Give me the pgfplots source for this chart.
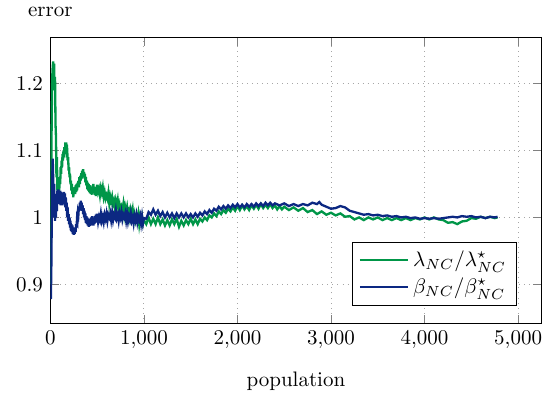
\documentclass[border=0pt]{standalone}
\usepackage{pgfplots}
\pgfplotsset{compat=1.18}
\definecolor{lgreen}{RGB}{0,150,72}
\definecolor{lblue}{RGB}{12,40,130}
\begin{document}
\begin{tikzpicture}
\begin{axis}[
  scale only axis,
  width=234pt, height=136.5pt,
  xmin=0, xmax=5250,
  ymin=0.8414, ymax=1.2696,
  xtick={0,1000,2000,3000,4000,5000},
  ytick={0.9,1,1.1,1.2},
  grid=major,
  major grid style={gray!70, dotted},
  tick style={gray},
  xlabel={population},
  ylabel={error},
  every axis y label/.style={at={(axis description cs:0,1)},anchor=south,yshift=6.2pt},
  xlabel style={yshift=-4.1pt},
  legend style={at={(0.95,0.063)}, anchor=south east, draw=black, font=\normalsize},
  legend cell align=left,
  legend image code/.code={\draw[#1] (0cm,0cm) -- (0.8cm,0cm);},
]
\addplot[lgreen, line width=1.1pt] coordinates {
(0,0.90)(5,0.96)(10,1.08)(15,1.16)(20,1.21)(25,1.225)(30,1.233)(35,1.215)(40,1.23)(45,1.19)(50,1.21)(55,1.14)(60,1.12)(65,1.06)(70,1.09)(75,1.04)(80,1.06)(85,1.03)(90,1.055)(95,1.04)(100,1.06)(105,1.05)(110,1.075)(115,1.065)(120,1.085)(125,1.075)(130,1.095)(135,1.085)(140,1.10)(145,1.09)(150,1.105)(155,1.095)(160,1.112)(165,1.10)(170,1.112)(175,1.098)(180,1.10)(185,1.085)(190,1.09)(195,1.07)(200,1.075)(205,1.06)(210,1.065)(215,1.05)(220,1.055)(225,1.04)(230,1.05)(235,1.035)(240,1.045)(245,1.03)(250,1.045)(255,1.035)(260,1.045)(265,1.035)(270,1.048)(275,1.038)(280,1.05)(285,1.04)(290,1.052)(295,1.045)(300,1.055)(305,1.045)(310,1.06)(315,1.05)(320,1.062)(325,1.055)(330,1.066)(335,1.058)(340,1.07)(345,1.06)(350,1.072)(355,1.062)(360,1.068)(365,1.058)(370,1.065)(375,1.052)(380,1.06)(385,1.048)(390,1.055)(395,1.042)(400,1.052)(405,1.04)(410,1.05)(415,1.038)(420,1.048)(425,1.036)(430,1.046)(435,1.035)(440,1.045)(445,1.034)(450,1.048)(455,1.036)(460,1.05)(465,1.038)(470,1.046)(475,1.034)(480,1.044)(485,1.032)(490,1.042)(495,1.034)
(500,1.049)(510,1.038)(520,1.043)(530,1.033)(540,1.044)(550,1.037)(560,1.045)(570,1.031)(580,1.038)(590,1.028)(600,1.033)(610,1.028)(620,1.037)(630,1.021)(640,1.031)(650,1.024)(660,1.031)(670,1.020)(680,1.025)(690,1.014)(700,1.025)(710,1.018)(720,1.026)(730,1.012)(740,1.019)(750,1.010)(760,1.016)(770,1.011)(780,1.020)(790,1.005)(800,1.016)(810,1.009)(820,1.016)(830,1.005)(840,1.010)(850,1.000)(860,1.011)(870,1.004)(880,1.012)(890,0.998)(900,1.005)(910,0.995)(920,1.001)(930,0.996)(940,1.005)(950,0.990)(960,1.001)(970,0.994)(980,1.001)(990,0.991)(1000,0.996)
(1025,0.99)(1050,1.0)(1075,0.99)(1100,0.998)(1125,0.99)(1150,1.0)(1175,0.99)(1200,0.997)(1225,0.988)(1250,0.996)(1275,0.988)(1300,0.997)(1325,0.99)(1350,0.998)(1375,0.986)(1400,0.995)(1425,0.988)(1450,0.996)(1475,0.99)(1500,0.998)(1525,0.99)(1550,0.997)(1575,0.99)(1600,0.998)(1625,0.994)(1650,1.0)(1675,0.996)(1700,1.003)(1725,1.0)(1750,1.006)(1775,1.002)(1800,1.009)(1825,1.005)(1850,1.011)(1875,1.007)(1900,1.013)(1925,1.009)(1950,1.015)(1975,1.01)(2000,1.017)(2025,1.011)(2050,1.018)(2075,1.012)(2100,1.017)(2125,1.011)(2150,1.018)(2175,1.013)(2200,1.019)(2225,1.013)(2250,1.02)(2275,1.014)(2300,1.019)(2325,1.014)(2350,1.02)(2375,1.014)(2400,1.018)(2425,1.012)(2450,1.017)(2475,1.012)(2500,1.016)(2550,1.011)(2600,1.015)(2650,1.01)(2700,1.014)(2750,1.008)(2800,1.011)(2850,1.005)(2900,1.009)(2950,1.004)(3000,1.007)(3050,1.003)(3100,1.006)(3150,1.001)(3200,1.002)(3250,0.997)(3300,1.0)(3350,0.996)(3400,1.0)(3450,0.997)(3500,1.0)(3550,0.996)(3600,0.999)(3650,0.996)(3700,0.999)(3750,0.996)(3800,0.999)(3850,0.996)(3900,0.999)(3950,0.997)(4000,1.0)(4050,0.997)(4100,1.0)(4150,0.997)(4200,0.996)(4250,0.992)(4300,0.993)(4350,0.99)(4400,0.994)(4450,0.995)(4500,0.999)(4550,0.998)(4600,1.001)(4650,0.999)(4700,1.001)(4750,0.999)(4780,1.0)
};
\addlegendentry{$\lambda_{NC}/\lambda^\star_{NC}$}
\addplot[lblue, line width=1.1pt] coordinates {
(0,0.90)(5,0.878)(10,0.92)(15,1.0)(20,1.06)(25,1.088)(30,1.06)(35,1.0)(40,1.05)(45,1.02)(50,0.995)(55,1.03)(60,1.0)(65,1.035)(70,1.01)(75,1.04)(80,1.02)(85,1.042)(90,1.02)(95,1.04)(100,1.02)(105,1.04)(110,1.018)(115,1.038)(120,1.02)(125,1.036)(130,1.018)(135,1.035)(140,1.02)(145,1.038)(150,1.02)(155,1.036)(160,1.015)(165,1.03)(170,1.01)(175,1.022)(180,1.0)(185,1.015)(190,0.995)(195,1.005)(200,0.99)(205,1.0)(210,0.985)(215,0.995)(220,0.98)(225,0.99)(230,0.978)(235,0.988)(240,0.975)(245,0.985)(250,0.974)(255,0.984)(260,0.975)(265,0.985)(270,0.978)(275,0.99)(280,0.985)(285,0.998)(290,0.995)(295,1.008)(300,1.005)(305,1.016)(310,1.01)(315,1.022)(320,1.015)(325,1.025)(330,1.015)(335,1.022)(340,1.01)(345,1.018)(350,1.005)(355,1.014)(360,1.0)(365,1.01)(370,0.996)(375,1.006)(380,0.992)(385,1.002)(390,0.99)(395,1.0)(400,0.988)(405,0.998)(410,0.986)(415,0.997)(420,0.987)(425,0.998)(430,0.988)(435,1.0)(440,0.99)(445,1.002)(450,0.99)(455,1.0)(460,0.988)(465,0.999)(470,0.99)(475,1.002)(480,0.992)(485,1.004)(490,0.993)(495,1.004)
(500,1.004)(510,0.993)(520,1.001)(530,0.996)(540,1.006)(550,0.995)(560,1.001)(570,0.993)(580,1.004)(590,0.998)(600,1.006)(610,0.995)(620,1.004)(630,1.000)(640,1.006)(650,0.996)(660,1.007)(670,0.996)(680,1.004)(690,1.000)(700,1.010)(710,0.999)(720,1.004)(730,0.995)(740,1.006)(750,1.000)(760,1.008)(770,0.997)(780,1.004)(790,1.000)(800,1.006)(810,0.995)(820,1.005)(830,0.994)(840,1.002)(850,0.997)(860,1.006)(870,0.995)(880,1.000)(890,0.991)(900,1.002)(910,0.996)(920,1.004)(930,0.993)(940,1.001)(950,0.996)(960,1.002)(970,0.991)(980,1.002)(990,0.991)(1000,0.999)
(1025,0.998)(1050,1.008)(1075,1.004)(1100,1.012)(1125,1.004)(1150,1.01)(1175,1.002)(1200,1.008)(1225,1.0)(1250,1.007)(1275,1.0)(1300,1.006)(1325,0.999)(1350,1.006)(1375,1.0)(1400,1.006)(1425,1.0)(1450,1.006)(1475,1.0)(1500,1.005)(1525,1.0)(1550,1.006)(1575,1.001)(1600,1.007)(1625,1.003)(1650,1.009)(1675,1.005)(1700,1.011)(1725,1.007)(1750,1.013)(1775,1.01)(1800,1.016)(1825,1.012)(1850,1.017)(1875,1.013)(1900,1.018)(1925,1.014)(1950,1.019)(1975,1.015)(2000,1.02)(2025,1.015)(2050,1.019)(2075,1.015)(2100,1.02)(2125,1.016)(2150,1.02)(2175,1.016)(2200,1.021)(2225,1.017)(2250,1.021)(2275,1.017)(2300,1.022)(2325,1.018)(2350,1.022)(2375,1.018)(2400,1.021)(2450,1.018)(2500,1.021)(2550,1.017)(2600,1.02)(2650,1.017)(2700,1.02)(2750,1.018)(2800,1.022)(2850,1.02)(2875,1.023)(2900,1.019)(2950,1.016)(3000,1.013)(3050,1.014)(3100,1.017)(3150,1.015)(3200,1.01)(3250,1.008)(3300,1.006)(3350,1.004)(3400,1.005)(3450,1.003)(3500,1.004)(3550,1.002)(3600,1.003)(3650,1.001)(3700,1.002)(3750,1.0)(3800,1.001)(3850,0.999)(3900,1.0)(3950,0.998)(4000,0.999)(4050,0.998)(4100,0.999)(4150,0.998)(4200,0.999)(4250,1.0)(4300,1.001)(4350,1.0)(4400,1.002)(4450,1.001)(4500,1.002)(4550,1.0)(4600,1.001)(4650,0.999)(4700,1.001)(4750,1.0)(4780,1.001)
};
\addlegendentry{$\beta_{NC}/\beta^\star_{NC}$}
\end{axis}
\path (current axis.south west) +(-24pt,-31pt);
\path (current axis.north east) +(3.3pt,17.6pt);
\end{tikzpicture}
\end{document}
